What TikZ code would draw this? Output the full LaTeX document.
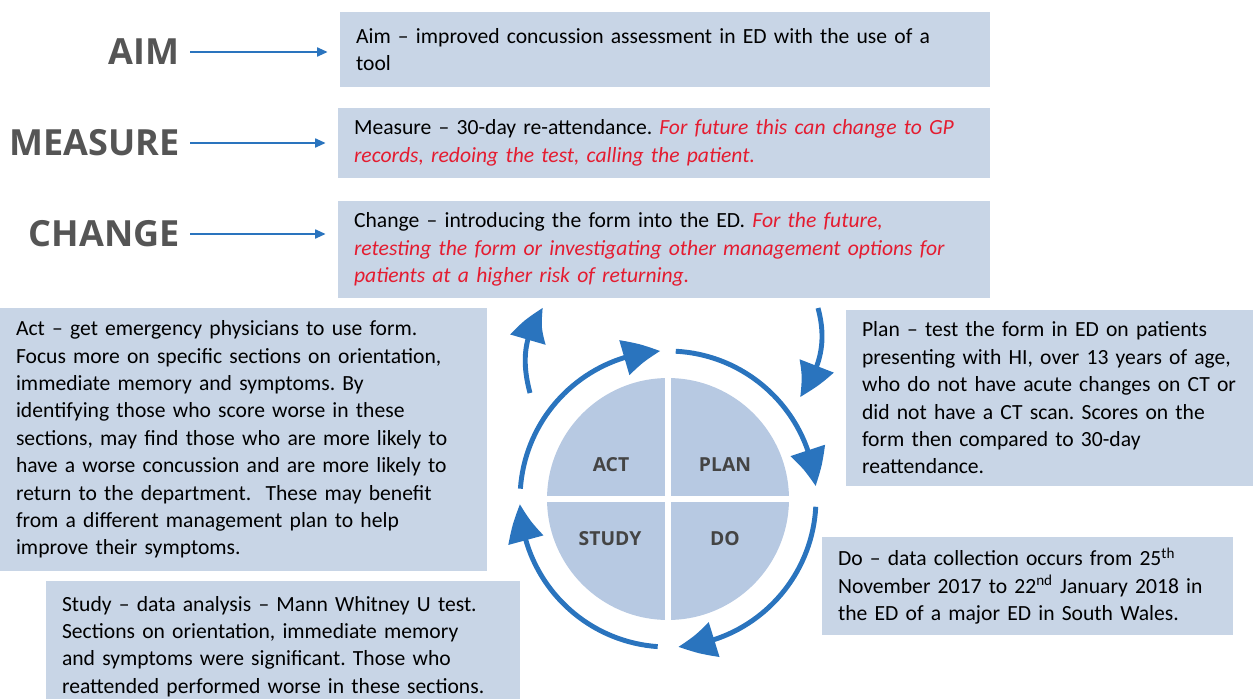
\documentclass[tikz,border=0pt]{standalone}
\usepackage{fontspec}
\setmainfont{Carlito}
\newfontfamily\headfont{Open Sans}
\usetikzlibrary{arrows.meta,bending}
\definecolor{boxblue}{RGB}{200,213,230}
\definecolor{pieblue}{RGB}{183,201,226}
\definecolor{cycblue}{RGB}{42,116,190}
\definecolor{futred}{RGB}{228,28,48}
\definecolor{headgray}{RGB}{85,85,85}
\newcommand{\fut}[1]{{\color{futred}\itshape #1}}
\frenchspacing
\tikzset{
txtbox/.style={fill=boxblue, inner xsep=0.32cm, inner ysep=0pt, align=left,
  font=\fontsize{12.3}{15.6}\selectfont},
headlbl/.style={anchor=east, inner sep=0pt, text=headgray,
  font=\headfont\bfseries\fontsize{20.5}{22}\selectfont},
lblarr/.style={draw=cycblue, line width=1.3pt, -{Triangle[length=6pt,width=5pt]},
  shorten <=0.2cm, shorten >=0.24cm},
ringarr/.style={draw=cycblue, line width=2.8pt, -{Triangle[length=0.74cm,width=0.7cm,bend]}},
quad/.style={text=headgray!80!black, font=\headfont\bfseries\fontsize{11}{13}\selectfont}
}
\begin{document}
\begin{tikzpicture}[x=0.02cm,y=0.02cm]
\useasboundingbox (0,0) rectangle (1253,698);

% model for improvement
\node[headlbl] (aim) at (180,646) {AIM};
\node[headlbl] (measure) at (180,555) {MEASURE};
\node[headlbl] (change) at (180,464) {CHANGE};

\node[txtbox, text width=12.36cm, minimum height=1.5cm] (aimbox) at (665,648.5)
  {Aim -- improved concussion assessment in ED with the use of a\\ tool};
\node[txtbox, text width=12.4cm, minimum height=1.4cm] (measurebox) at (664,555)
  {Measure -- 30-day re-attendance. \fut{For future this can change to GP}\\
   \fut{records, redoing the test, calling the patient.}};
\node[txtbox, text width=12.4cm, minimum height=1.94cm] (changebox) at (664,448.5)
  {Change -- introducing the form into the ED. \fut{For the future,}\\
   \fut{retesting the form or investigating other management options for}\\
   \fut{patients at a higher risk of returning.}};

\draw[lblarr] (aim.east) -- (aim.east -| aimbox.west);
\draw[lblarr] (measure.east) -- (measure.east -| measurebox.west);
\draw[lblarr] (change.east) -- (change.east -| changebox.west);

% PDSA boxes
\node[txtbox, text width=9.1cm, minimum height=5.26cm] (actbox) at (243.5,258.5)
  {Act -- get emergency physicians to use form.\\
   Focus more on specific sections on orientation,\\
   immediate memory and symptoms. By\\
   identifying those who score worse in these\\
   sections, may find those who are more likely to\\
   have a worse concussion and are more likely to\\
   return to the department.\ \ These may benefit\\
   from a different management plan to help\\
   improve their symptoms.};
\node[txtbox, text width=8.84cm, minimum height=2.64cm] (studybox) at (283,51.5)
  {Study -- data analysis -- Mann Whitney U test.\\
   Sections on orientation, immediate memory\\
   and symptoms were significant. Those who\\
   reattended performed worse in these sections.};
\node[txtbox, text width=7.5cm, minimum height=3.52cm] (planbox) at (1049.5,300)
  {Plan -- test the form in ED on patients\\
   presenting with HI, over 13 years of age,\\
   who do not have acute changes on CT or\\
   did not have a CT scan. Scores on the\\
   form then compared to 30-day\\
   reattendance.};
\node[txtbox, text width=7.58cm, minimum height=1.96cm] (dobox) at (1027.5,112)
  {Do -- data collection occurs from 25\textsuperscript{th}\\
   November 2017 to 22\textsuperscript{nd} January 2018 in\\
   the ED of a major ED in South Wales.};

% cycle
\coordinate (cyc) at (668,199);
\fill[pieblue] (cyc) circle[radius=2.42cm];
\draw[white, line width=0.12cm] ([xshift=-2.5cm]cyc) -- ([xshift=2.5cm]cyc);
\draw[white, line width=0.12cm] ([yshift=-2.5cm]cyc) -- ([yshift=2.5cm]cyc);
\node[quad] (actq) at (611,233) {ACT};
\node[quad] (planq) at (725,233) {PLAN};
\node[quad] (studyq) at (610,159) {STUDY};
\node[quad] (doq) at (725,159) {DO};

\draw[ringarr] (cyc) ++(176:2.96cm) arc[start angle=176, end angle=93, radius=2.96cm];
\draw[ringarr] (cyc) ++(87:2.96cm) arc[start angle=87, end angle=5, radius=2.96cm];
\draw[ringarr] (cyc) ++(-3:2.96cm) arc[start angle=-3, end angle=-86, radius=2.96cm];
\draw[ringarr] (cyc) ++(-94:2.96cm) arc[start angle=-94, end angle=-178, radius=2.96cm];

\coordinate (actout) at (530,305);
\coordinate (changein) at (543,390);
\coordinate (changeout) at (818,390);
\coordinate (planin) at (800,301);
\draw[ringarr] (actout) to[out=105,in=235] (changein);
\draw[ringarr] (changeout) to[out=-75,in=55] (planin);

\end{tikzpicture}
\end{document}
